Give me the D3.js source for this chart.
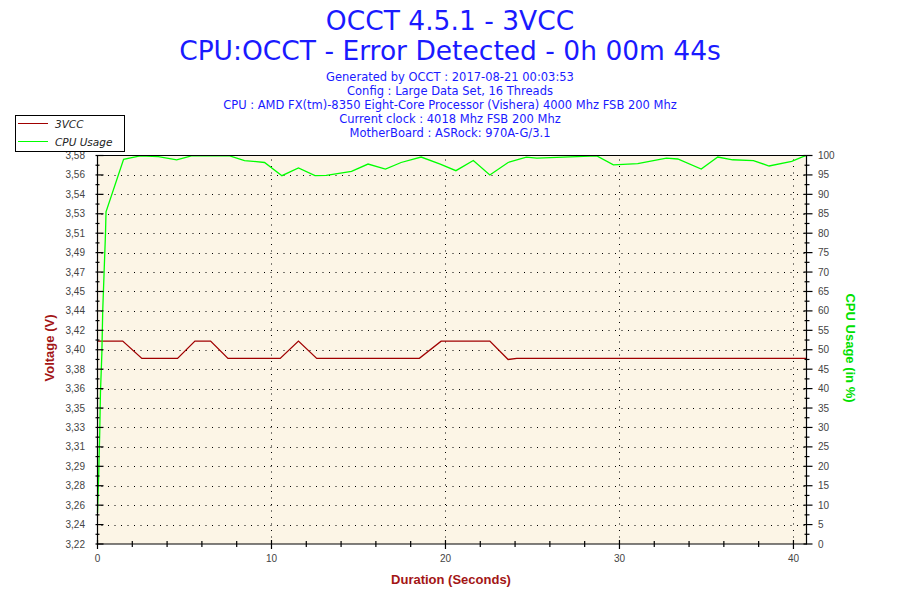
<!doctype html>
<html lang="en">
  <head>
    <meta charset="UTF-8" />
    <title>OCCT 4.5.1 - 3VCC</title>
    <script src="https://d3js.org/d3.v7.min.js"></script>
    <style>
      body {
        margin: 0;
        background: #fff;
      }
      .title {
        font-family: "DejaVu Sans", Verdana, sans-serif;
        fill: #1a1aff;
      }
      .tick-label {
        font-family: "Liberation Sans", Arial, sans-serif;
        font-size: 10px;
        fill: #444;
      }
      .axis-title {
        font-family: "Liberation Sans Narrow", "Liberation Sans", Arial, sans-serif;
        font-size: 13px;
        font-weight: bold;
      }
      .legend-text {
        font-family: "DejaVu Sans", Verdana, sans-serif;
        font-size: 10.5px;
        font-style: italic;
        fill: #222;
      }
    </style>
  </head>
  <body>
    <svg width="900" height="600"></svg>

    <script>
      // header text
      const titleLines = ["OCCT 4.5.1 - 3VCC", "CPU:OCCT - Error Detected - 0h 00m 44s"];
      const infoLines = [
        "Generated by OCCT : 2017-08-21 00:03:53",
        "Config : Large Data Set, 16 Threads",
        "CPU : AMD FX(tm)-8350 Eight-Core Processor (Vishera) 4000 Mhz FSB 200 Mhz",
        "Current clock : 4018 Mhz FSB 200 Mhz",
        "MotherBoard : ASRock: 970A-G/3.1",
      ];

      // left axis labels (one per 5% step of the right axis)
      const voltLabels = [
        "3,22", "3,24", "3,26", "3,28", "3,29", "3,31", "3,33", "3,35", "3,36", "3,38", "3,40",
        "3,42", "3,44", "3,45", "3,47", "3,49", "3,51", "3,53", "3,54", "3,56", "3,58",
      ];
      const cpuTicks = d3.range(0, 101, 5);
      const timeTicks = [0, 10, 20, 30, 40];

      // 3VCC series
      const voltTime = [0, 1.45, 2.55, 3.1, 4.0, 4.6, 5.6, 6.5, 7.5, 10.5, 11.55, 12.6, 18.5, 19.75, 22.55, 23.6, 24.1, 40.75];
      const voltValue = [3.408, 3.408, 3.392, 3.392, 3.392, 3.392, 3.408, 3.408, 3.392, 3.392, 3.408, 3.392, 3.392, 3.408, 3.408, 3.391, 3.392, 3.392];

      // CPU usage series
      const cpuTime = [
        0, 0.07, 0.13, 0.17, 0.25, 0.3, 0.38, 0.46, 0.49, 1.5, 2.45, 3.5, 4.55, 5.4, 7.6, 8.45, 9.6,
        10.6, 11.55, 12.5, 13.15, 14.6, 15.55, 16.55, 17.45, 18.6, 19.7, 20.6, 21.6, 22.55, 23.6,
        24.65, 25.25, 28.7, 29.65, 31.05, 32.7, 33.35, 34.7, 35.65, 36.5, 37.7, 38.6, 39.9, 40.55, 40.75,
      ];
      const cpuUsage = [
        8, 18, 29, 39, 49, 60, 70, 80, 85.5, 99, 99.9, 99.7, 98.9, 99.9, 99.9, 98.7, 98.2,
        94.8, 96.8, 94.8, 94.9, 95.9, 97.8, 96.5, 98.2, 99.6, 97.8, 96.1, 98.7, 95, 98.2,
        99.6, 99.3, 99.9, 97.6, 97.9, 99.3, 99.1, 96.5, 99.6, 98.9, 98.7, 97.3, 98.5, 99.7, 100,
      ];

      const svg = d3.select("svg");
      const plotLeft = 97.5, plotRight = 806.5, plotTop = 155.5, plotBottom = 544;

      const x = d3.scaleLinear().domain([0, 40.75]).range([plotLeft, plotRight]);
      const yCpu = d3.scaleLinear().domain([0, 100]).range([plotBottom, plotTop]);
      const yVolt = d3.scaleLinear().domain([3.22, 3.58]).range([plotBottom, plotTop]);

      // titles
      svg.selectAll(".t1")
        .data(titleLines)
        .enter()
        .append("text")
        .attr("class", "title")
        .attr("x", 450)
        .attr("y", (d, i) => 30 + i * 30)
        .attr("text-anchor", "middle")
        .style("font-size", "26.5px")
        .text((d) => d);

      svg.selectAll(".t2")
        .data(infoLines)
        .enter()
        .append("text")
        .attr("class", "title")
        .attr("x", 450)
        .attr("y", (d, i) => 80.5 + i * 14)
        .attr("text-anchor", "middle")
        .style("font-size", "11.5px")
        .text((d) => d);

      // plot background
      svg.append("rect")
        .attr("x", plotLeft)
        .attr("y", plotTop)
        .attr("width", plotRight - plotLeft)
        .attr("height", plotBottom - plotTop)
        .attr("fill", "#fcf5e6");

      // dotted grid
      const grid = svg.append("g")
        .attr("stroke", "#000")
        .attr("stroke-width", 1)
        .attr("stroke-dasharray", "1,5.5");
      grid.selectAll(".hg")
        .data(cpuTicks.filter((d) => d > 0 && d < 100))
        .enter()
        .append("line")
        .attr("x1", plotLeft + 4)
        .attr("x2", plotRight)
        .attr("y1", (d) => Math.round(yCpu(d)) + 0.5)
        .attr("y2", (d) => Math.round(yCpu(d)) + 0.5);
      grid.selectAll(".vg")
        .data(timeTicks.filter((d) => d > 0))
        .enter()
        .append("line")
        .attr("y1", plotTop + 4)
        .attr("y2", plotBottom)
        .attr("x1", (d) => Math.round(x(d)) + 0.5)
        .attr("x2", (d) => Math.round(x(d)) + 0.5);

      // lines
      const cpuData = cpuTime.map((t, i) => ({ t: t, v: cpuUsage[i] }));
      const voltData = voltTime.map((t, i) => ({ t: t, v: voltValue[i] }));

      svg.append("path")
        .datum(voltData)
        .attr("fill", "none")
        .attr("stroke", "#a00000")
        .attr("stroke-width", 1.3)
        .attr("d", d3.line().x((d) => x(d.t)).y((d) => yVolt(d.v)));

      svg.append("path")
        .datum(cpuData)
        .attr("fill", "none")
        .attr("stroke", "#00ff00")
        .attr("stroke-width", 1.3)
        .attr("d", d3.line().x((d) => x(d.t)).y((d) => yCpu(d.v)));

      // frame
      const axes = svg.append("g").attr("stroke", "#000").attr("stroke-width", 1.2);
      axes.append("line").attr("x1", plotLeft).attr("x2", plotLeft).attr("y1", plotTop).attr("y2", plotBottom + 0.5);
      axes.append("line").attr("x1", plotRight).attr("x2", plotRight).attr("y1", plotTop).attr("y2", plotBottom + 0.5);
      axes.append("line").attr("x1", plotLeft).attr("x2", plotRight).attr("y1", plotBottom).attr("y2", plotBottom);
      axes.append("line").attr("x1", plotLeft).attr("x2", plotRight).attr("y1", plotTop).attr("y2", plotTop);

      // left axis ticks
      const minorY = d3.range(2.5, 100, 5);
      axes.selectAll(".lt")
        .data(cpuTicks)
        .enter()
        .append("line")
        .attr("x1", plotLeft - 2)
        .attr("x2", plotLeft + 6)
        .attr("y1", (d) => yCpu(d))
        .attr("y2", (d) => yCpu(d));
      axes.selectAll(".lm")
        .data(minorY)
        .enter()
        .append("line")
        .attr("x1", plotLeft - 2)
        .attr("x2", plotLeft + 2)
        .attr("y1", (d) => yCpu(d))
        .attr("y2", (d) => yCpu(d));

      // right axis ticks
      axes.selectAll(".rt")
        .data(cpuTicks)
        .enter()
        .append("line")
        .attr("x1", plotRight - 3)
        .attr("x2", plotRight + 6)
        .attr("y1", (d) => yCpu(d))
        .attr("y2", (d) => yCpu(d));
      axes.selectAll(".rm")
        .data(minorY)
        .enter()
        .append("line")
        .attr("x1", plotRight - 2)
        .attr("x2", plotRight + 3)
        .attr("y1", (d) => yCpu(d))
        .attr("y2", (d) => yCpu(d));

      // bottom axis ticks
      axes.selectAll(".bt")
        .data(d3.range(0, 41, 2))
        .enter()
        .append("line")
        .attr("x1", (d) => x(d))
        .attr("x2", (d) => x(d))
        .attr("y1", (d) => (d % 10 === 0 ? plotBottom - 4 : plotBottom - 3))
        .attr("y2", (d) => (d % 10 === 0 ? plotBottom + 5 : plotBottom + 3));

      // tick labels
      svg.selectAll(".vl")
        .data(voltLabels)
        .enter()
        .append("text")
        .attr("class", "tick-label")
        .attr("x", 85)
        .attr("y", (d, i) => yCpu(i * 5) + 3.5)
        .attr("text-anchor", "end")
        .text((d) => d);

      svg.selectAll(".cl")
        .data(cpuTicks)
        .enter()
        .append("text")
        .attr("class", "tick-label")
        .attr("x", 818)
        .attr("y", (d) => yCpu(d) + 3.5)
        .text((d) => d);

      svg.selectAll(".xl")
        .data(timeTicks)
        .enter()
        .append("text")
        .attr("class", "tick-label")
        .attr("x", (d) => x(d))
        .attr("y", 562)
        .attr("text-anchor", "middle")
        .text((d) => d);

      // axis titles
      svg.append("text")
        .attr("class", "axis-title")
        .attr("fill", "#a31515")
        .attr("transform", "translate(54,348) rotate(-90)")
        .attr("text-anchor", "middle")
        .text("Voltage (V)");

      svg.append("text")
        .attr("class", "axis-title")
        .attr("fill", "#00e000")
        .attr("transform", "translate(846,348) rotate(90)")
        .attr("text-anchor", "middle")
        .text("CPU Usage (in %)");

      svg.append("text")
        .attr("class", "axis-title")
        .attr("fill", "#a31515")
        .attr("x", 451)
        .attr("y", 584)
        .attr("text-anchor", "middle")
        .text("Duration (Seconds)");

      // legend
      const legendItems = [
        { name: "3VCC", color: "#a00000" },
        { name: "CPU Usage", color: "#00ff00" },
      ];
      const legend = svg.append("g");
      legend.append("rect")
        .attr("x", 15.5)
        .attr("y", 115.5)
        .attr("width", 109)
        .attr("height", 36)
        .attr("fill", "#fff")
        .attr("stroke", "#000");
      const li = legend.selectAll(".li")
        .data(legendItems)
        .enter()
        .append("g")
        .attr("transform", (d, i) => `translate(0,${123.5 + i * 18})`);
      li.append("line")
        .attr("x1", 18)
        .attr("x2", 48)
        .attr("stroke", (d) => d.color)
        .attr("stroke-width", 1);
      li.append("text")
        .attr("class", "legend-text")
        .attr("x", 55)
        .attr("y", 4)
        .text((d) => d.name);
    </script>
  </body>
</html>
